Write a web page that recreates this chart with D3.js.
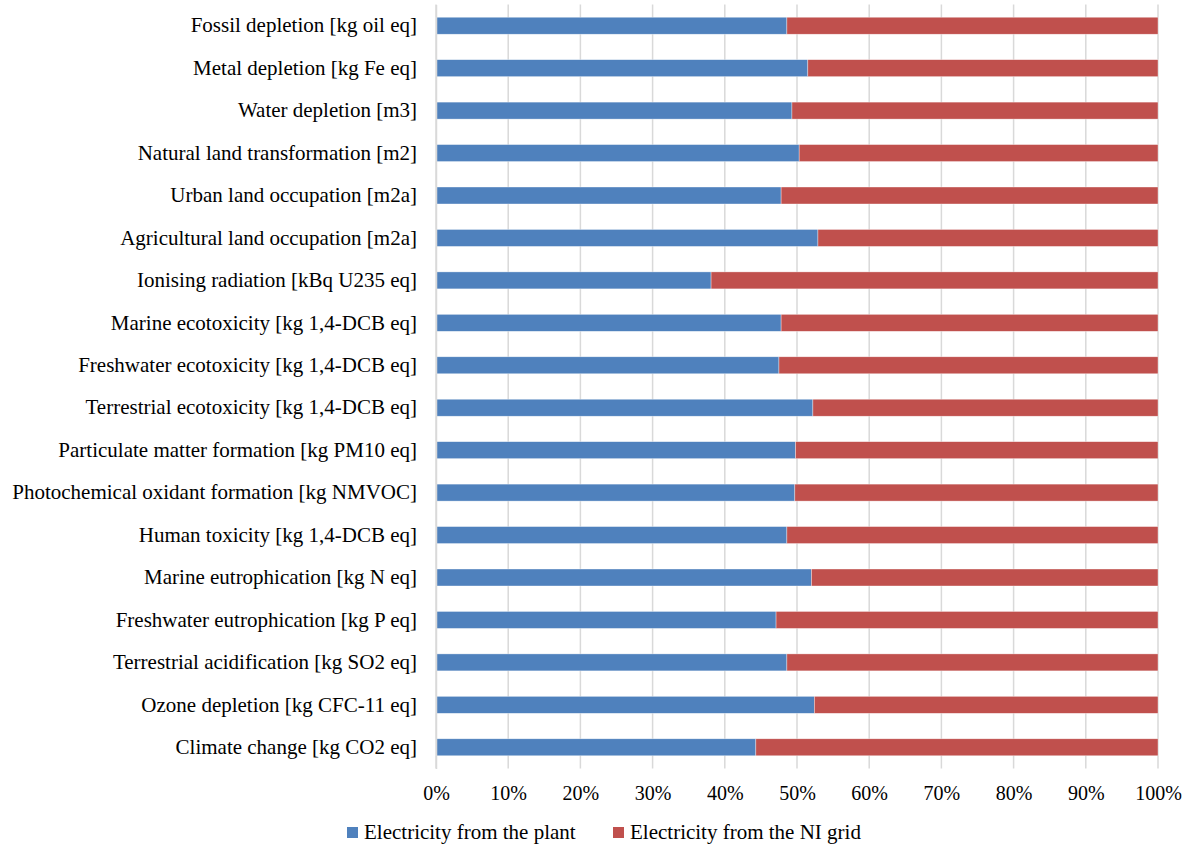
<!DOCTYPE html>
<html>
<head>
<meta charset="utf-8">
<script src="https://cdn.jsdelivr.net/npm/d3@7"></script>
<style>
  html, body { margin: 0; padding: 0; background: #fff; }
  svg { display: block; }
  text { font-family: "Liberation Serif", "Times New Roman", serif; fill: #000; }
</style>
</head>
<body>
<svg id="chart" width="1195" height="849"></svg>
<script>
// Impact categories, listed top to bottom
const categories = [
  "Fossil depletion [kg oil eq]",
  "Metal depletion [kg Fe eq]",
  "Water depletion [m3]",
  "Natural land transformation [m2]",
  "Urban land occupation [m2a]",
  "Agricultural land occupation [m2a]",
  "Ionising radiation [kBq U235 eq]",
  "Marine ecotoxicity [kg 1,4-DCB eq]",
  "Freshwater ecotoxicity [kg 1,4-DCB eq]",
  "Terrestrial ecotoxicity [kg 1,4-DCB eq]",
  "Particulate matter formation [kg PM10 eq]",
  "Photochemical oxidant formation [kg NMVOC]",
  "Human toxicity [kg 1,4-DCB eq]",
  "Marine eutrophication [kg N eq]",
  "Freshwater eutrophication [kg P eq]",
  "Terrestrial acidification [kg SO2 eq]",
  "Ozone depletion [kg CFC-11 eq]",
  "Climate change [kg CO2 eq]"
];

// Share of each impact (%) by electricity source
const plantShare = [48.6, 51.5, 49.3, 50.3, 47.8, 52.9, 38.1, 47.8, 47.5, 52.2, 49.8, 49.7, 48.6, 52.0, 47.1, 48.6, 52.4, 44.3];
const gridShare = plantShare.map(v => 100 - v);

const seriesNames = ["Electricity from the plant", "Electricity from the NI grid"];
const seriesColors = ["#4f81bd", "#c0504d"];
const tickValues = [0, 10, 20, 30, 40, 50, 60, 70, 80, 90, 100];

const svg = d3.select("#chart");
const margin = { left: 436, right: 37, top: 4.5, bottom: 80.5 };
const W = 1195, H = 849;

const x = d3.scaleLinear().domain([0, 100]).range([margin.left, W - margin.right]);
const y = d3.scaleBand().domain(categories).range([margin.top, H - margin.bottom]).paddingInner(0.6).paddingOuter(0.3);

// Vertical gridlines
svg.append("g")
  .selectAll("line")
  .data(tickValues)
  .join("line")
  .attr("x1", d => x(d)).attr("x2", d => x(d))
  .attr("y1", margin.top).attr("y2", H - margin.bottom)
  .attr("stroke", "#d9d9d9").attr("stroke-width", 1.5);

// Stacked bars
const rows = categories.map((c, i) => ({ cat: c, plant: plantShare[i], grid: gridShare[i] }));
const stack = d3.stack().keys(["plant", "grid"])(rows);

svg.append("g")
  .selectAll("g")
  .data(stack)
  .join("g")
  .attr("fill", (d, i) => seriesColors[i])
  .selectAll("rect")
  .data(d => d)
  .join("rect")
  .attr("x", d => x(d[0]))
  .attr("width", d => x(d[1]) - x(d[0]))
  .attr("y", d => y(d.data.cat))
  .attr("height", y.bandwidth())
  .attr("stroke", "#ffffff").attr("stroke-width", 0.6).attr("stroke-opacity", 0.6);

// Category axis
const yAxis = svg.append("g")
  .attr("transform", `translate(${margin.left},0)`)
  .call(d3.axisLeft(y).tickSize(0).tickPadding(19));
yAxis.select(".domain").attr("stroke", "#d9d9d9").attr("stroke-width", 1.5);
yAxis.selectAll("text").attr("font-size", 21).attr("font-family", "Liberation Serif");

// Percentage axis
const xAxis = svg.append("g")
  .attr("transform", `translate(0,${H - margin.bottom})`)
  .call(d3.axisBottom(x).tickValues(tickValues).tickFormat(d => d + "%").tickSize(0).tickPadding(17));
xAxis.select(".domain").remove();
xAxis.selectAll("text").attr("font-size", 20).attr("font-family", "Liberation Serif");

// Legend
const legendItems = [{ x: 347 }, { x: 613 }];
const legend = svg.append("g").selectAll("g")
  .data(seriesNames)
  .join("g")
  .attr("transform", (d, i) => `translate(${legendItems[i].x},827)`);
legend.append("rect")
  .attr("width", 11).attr("height", 11)
  .attr("fill", (d, i) => seriesColors[i]);
legend.append("text")
  .attr("x", 17).attr("y", 12)
  .attr("font-size", 21)
  .text(d => d);
</script>
</body>
</html>
